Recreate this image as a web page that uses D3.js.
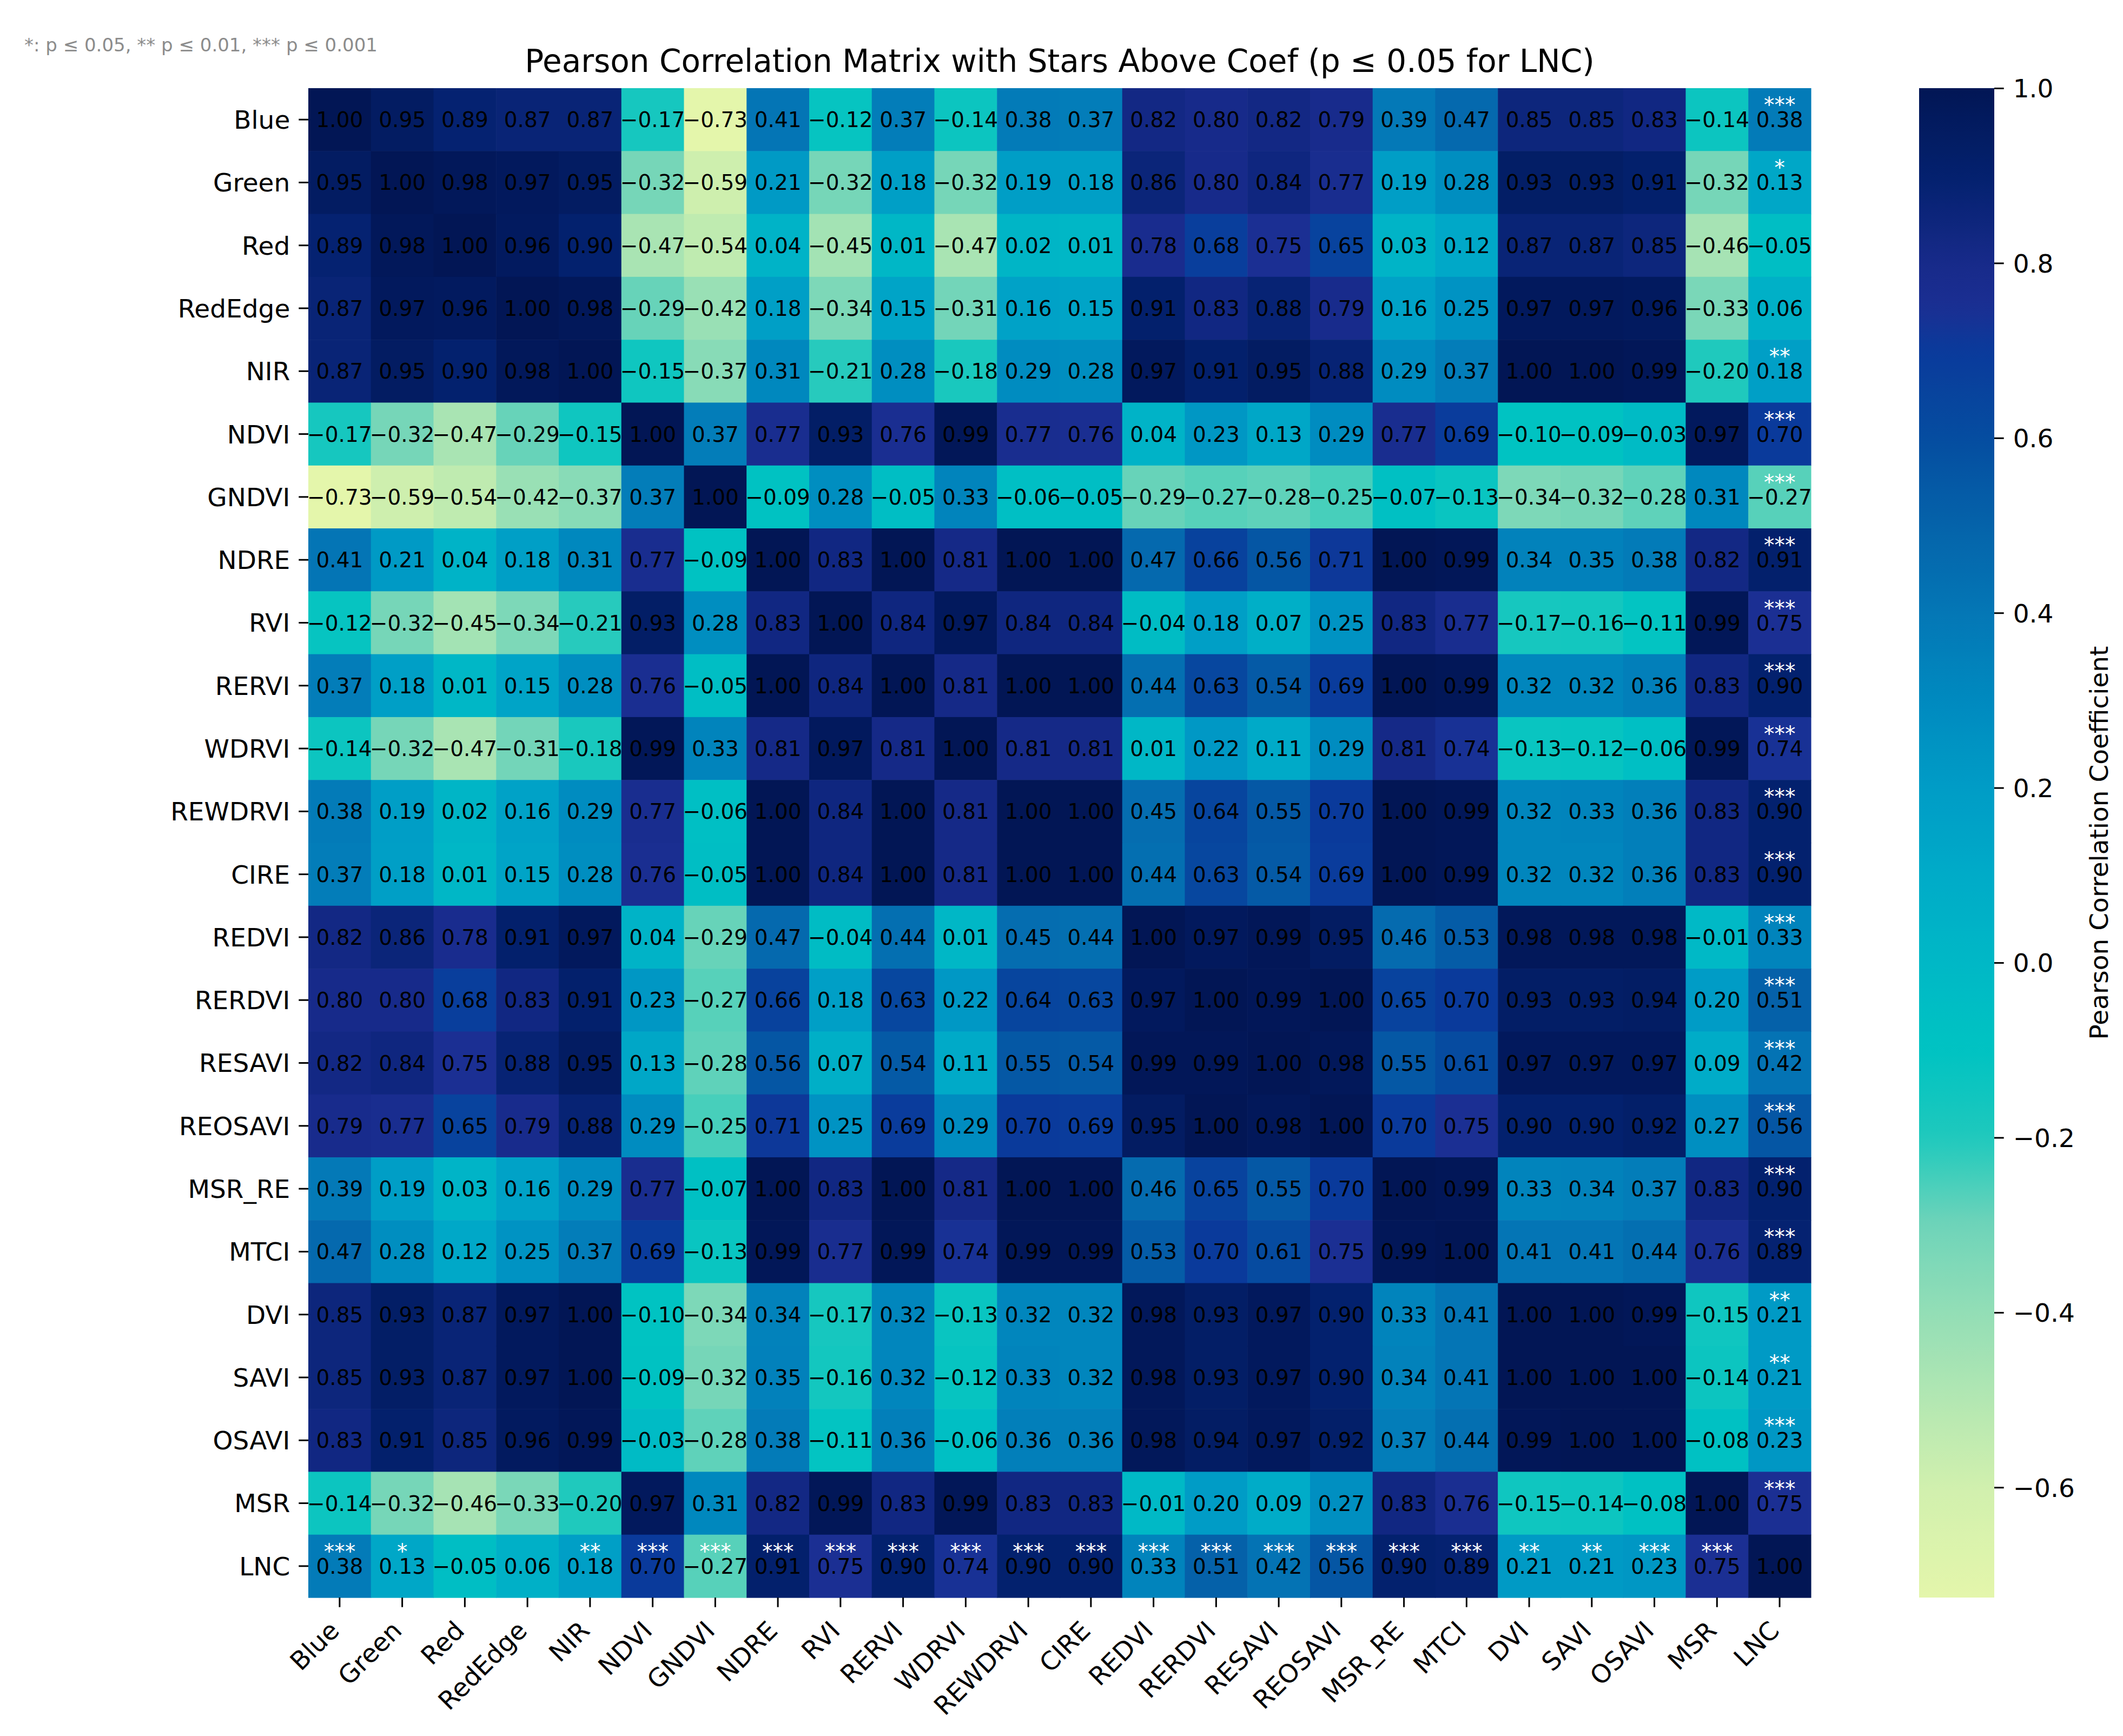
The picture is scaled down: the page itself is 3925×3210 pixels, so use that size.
<!DOCTYPE html>
<html>
<head>
<meta charset="utf-8">
<script src="https://cdn.jsdelivr.net/npm/d3@7"></script>
<style>
  body { margin: 0; background: #fff; }
  text { font-family: "DejaVu Sans", sans-serif; }
</style>
</head>
<body>
<svg id="chart"></svg>
<script>
// variables (rows and columns share the same order)
var categories = ["Blue","Green","Red","RedEdge","NIR","NDVI","GNDVI","NDRE","RVI","RERVI","WDRVI","REWDRVI","CIRE","REDVI","RERDVI","RESAVI","REOSAVI","MSR_RE","MTCI","DVI","SAVI","OSAVI","MSR","LNC"];

// correlation matrix, one row per variable
var corr = [
  [ 1.00, 0.95, 0.89, 0.87, 0.87,-0.17,-0.73, 0.41,-0.12, 0.37,-0.14, 0.38, 0.37, 0.82, 0.80, 0.82, 0.79, 0.39, 0.47, 0.85, 0.85, 0.83,-0.14, 0.38], // Blue
  [ 0.95, 1.00, 0.98, 0.97, 0.95,-0.32,-0.59, 0.21,-0.32, 0.18,-0.32, 0.19, 0.18, 0.86, 0.80, 0.84, 0.77, 0.19, 0.28, 0.93, 0.93, 0.91,-0.32, 0.13], // Green
  [ 0.89, 0.98, 1.00, 0.96, 0.90,-0.47,-0.54, 0.04,-0.45, 0.01,-0.47, 0.02, 0.01, 0.78, 0.68, 0.75, 0.65, 0.03, 0.12, 0.87, 0.87, 0.85,-0.46,-0.05], // Red
  [ 0.87, 0.97, 0.96, 1.00, 0.98,-0.29,-0.42, 0.18,-0.34, 0.15,-0.31, 0.16, 0.15, 0.91, 0.83, 0.88, 0.79, 0.16, 0.25, 0.97, 0.97, 0.96,-0.33, 0.06], // RedEdge
  [ 0.87, 0.95, 0.90, 0.98, 1.00,-0.15,-0.37, 0.31,-0.21, 0.28,-0.18, 0.29, 0.28, 0.97, 0.91, 0.95, 0.88, 0.29, 0.37, 1.00, 1.00, 0.99,-0.20, 0.18], // NIR
  [-0.17,-0.32,-0.47,-0.29,-0.15, 1.00, 0.37, 0.77, 0.93, 0.76, 0.99, 0.77, 0.76, 0.04, 0.23, 0.13, 0.29, 0.77, 0.69,-0.10,-0.09,-0.03, 0.97, 0.70], // NDVI
  [-0.73,-0.59,-0.54,-0.42,-0.37, 0.37, 1.00,-0.09, 0.28,-0.05, 0.33,-0.06,-0.05,-0.29,-0.27,-0.28,-0.25,-0.07,-0.13,-0.34,-0.32,-0.28, 0.31,-0.27], // GNDVI
  [ 0.41, 0.21, 0.04, 0.18, 0.31, 0.77,-0.09, 1.00, 0.83, 1.00, 0.81, 1.00, 1.00, 0.47, 0.66, 0.56, 0.71, 1.00, 0.99, 0.34, 0.35, 0.38, 0.82, 0.91], // NDRE
  [-0.12,-0.32,-0.45,-0.34,-0.21, 0.93, 0.28, 0.83, 1.00, 0.84, 0.97, 0.84, 0.84,-0.04, 0.18, 0.07, 0.25, 0.83, 0.77,-0.17,-0.16,-0.11, 0.99, 0.75], // RVI
  [ 0.37, 0.18, 0.01, 0.15, 0.28, 0.76,-0.05, 1.00, 0.84, 1.00, 0.81, 1.00, 1.00, 0.44, 0.63, 0.54, 0.69, 1.00, 0.99, 0.32, 0.32, 0.36, 0.83, 0.90], // RERVI
  [-0.14,-0.32,-0.47,-0.31,-0.18, 0.99, 0.33, 0.81, 0.97, 0.81, 1.00, 0.81, 0.81, 0.01, 0.22, 0.11, 0.29, 0.81, 0.74,-0.13,-0.12,-0.06, 0.99, 0.74], // WDRVI
  [ 0.38, 0.19, 0.02, 0.16, 0.29, 0.77,-0.06, 1.00, 0.84, 1.00, 0.81, 1.00, 1.00, 0.45, 0.64, 0.55, 0.70, 1.00, 0.99, 0.32, 0.33, 0.36, 0.83, 0.90], // REWDRVI
  [ 0.37, 0.18, 0.01, 0.15, 0.28, 0.76,-0.05, 1.00, 0.84, 1.00, 0.81, 1.00, 1.00, 0.44, 0.63, 0.54, 0.69, 1.00, 0.99, 0.32, 0.32, 0.36, 0.83, 0.90], // CIRE
  [ 0.82, 0.86, 0.78, 0.91, 0.97, 0.04,-0.29, 0.47,-0.04, 0.44, 0.01, 0.45, 0.44, 1.00, 0.97, 0.99, 0.95, 0.46, 0.53, 0.98, 0.98, 0.98,-0.01, 0.33], // REDVI
  [ 0.80, 0.80, 0.68, 0.83, 0.91, 0.23,-0.27, 0.66, 0.18, 0.63, 0.22, 0.64, 0.63, 0.97, 1.00, 0.99, 1.00, 0.65, 0.70, 0.93, 0.93, 0.94, 0.20, 0.51], // RERDVI
  [ 0.82, 0.84, 0.75, 0.88, 0.95, 0.13,-0.28, 0.56, 0.07, 0.54, 0.11, 0.55, 0.54, 0.99, 0.99, 1.00, 0.98, 0.55, 0.61, 0.97, 0.97, 0.97, 0.09, 0.42], // RESAVI
  [ 0.79, 0.77, 0.65, 0.79, 0.88, 0.29,-0.25, 0.71, 0.25, 0.69, 0.29, 0.70, 0.69, 0.95, 1.00, 0.98, 1.00, 0.70, 0.75, 0.90, 0.90, 0.92, 0.27, 0.56], // REOSAVI
  [ 0.39, 0.19, 0.03, 0.16, 0.29, 0.77,-0.07, 1.00, 0.83, 1.00, 0.81, 1.00, 1.00, 0.46, 0.65, 0.55, 0.70, 1.00, 0.99, 0.33, 0.34, 0.37, 0.83, 0.90], // MSR_RE
  [ 0.47, 0.28, 0.12, 0.25, 0.37, 0.69,-0.13, 0.99, 0.77, 0.99, 0.74, 0.99, 0.99, 0.53, 0.70, 0.61, 0.75, 0.99, 1.00, 0.41, 0.41, 0.44, 0.76, 0.89], // MTCI
  [ 0.85, 0.93, 0.87, 0.97, 1.00,-0.10,-0.34, 0.34,-0.17, 0.32,-0.13, 0.32, 0.32, 0.98, 0.93, 0.97, 0.90, 0.33, 0.41, 1.00, 1.00, 0.99,-0.15, 0.21], // DVI
  [ 0.85, 0.93, 0.87, 0.97, 1.00,-0.09,-0.32, 0.35,-0.16, 0.32,-0.12, 0.33, 0.32, 0.98, 0.93, 0.97, 0.90, 0.34, 0.41, 1.00, 1.00, 1.00,-0.14, 0.21], // SAVI
  [ 0.83, 0.91, 0.85, 0.96, 0.99,-0.03,-0.28, 0.38,-0.11, 0.36,-0.06, 0.36, 0.36, 0.98, 0.94, 0.97, 0.92, 0.37, 0.44, 0.99, 1.00, 1.00,-0.08, 0.23], // OSAVI
  [-0.14,-0.32,-0.46,-0.33,-0.20, 0.97, 0.31, 0.82, 0.99, 0.83, 0.99, 0.83, 0.83,-0.01, 0.20, 0.09, 0.27, 0.83, 0.76,-0.15,-0.14,-0.08, 1.00, 0.75], // MSR
  [ 0.38, 0.13,-0.05, 0.06, 0.18, 0.70,-0.27, 0.91, 0.75, 0.90, 0.74, 0.90, 0.90, 0.33, 0.51, 0.42, 0.56, 0.90, 0.89, 0.21, 0.21, 0.23, 0.75, 1.00]  // LNC
];

// significance stars of each variable against LNC
var lncStars = ["***","*","","","**","***","***","***","***","***","***","***","***","***","***","***","***","***","***","**","**","***","***",""];

var cbarTicks = [-0.6,-0.4,-0.2,0.0,0.2,0.4,0.6,0.8,1.0];
var vmin = -0.726, vmax = 1.0;

(function(){
  var W = 3925, H = 3210;
  var pad = {left: 570, right: 3348, top: 163, bottom: 2954};

  var svg = d3.select('#chart').attr('width', W).attr('height', H);
  svg.append('rect').attr('width', W).attr('height', H).attr('fill', '#fff');

  var x = d3.scaleBand().domain(categories).range([pad.left, pad.right]);
  var y = d3.scaleBand().domain(categories).range([pad.top, pad.bottom]);

  // colour ramp
  var color = d3.scaleLinear()
    .domain([-0.726,-0.6,-0.5,-0.4,-0.3,-0.2,-0.1,0.0,0.1,0.2,0.3,0.4,0.5,0.6,0.7,0.75,0.8,0.9,1.0])
    .range(["#e4f6ab","#d1f0ae","#b3e7b2","#93deb6","#6fd4b9","#1fc9bd","#00c3c2","#00b8c6","#00abc8","#009cc6","#008abf","#0477b6","#0563aa","#054da0","#0a3a9b","#1b2f93","#172a8a","#03216e","#021655"])
    .clamp(true);

  var n = categories.length;
  var cells = [];
  corr.forEach(function(row, i){
    row.forEach(function(v, j){
      var star = '';
      if (i === n - 1 && j !== i) star = lncStars[j];
      if (j === n - 1 && i !== j) star = lncStars[i];
      cells.push({r: categories[i], c: categories[j], v: v, star: star});
    });
  });

  var fmt = d3.format('.2f');

  svg.append('g')
    .selectAll('rect')
    .data(cells)
    .enter()
    .append('rect')
    .attr('x', function(d){ return x(d.c); })
    .attr('y', function(d){ return y(d.r); })
    .attr('width', x.bandwidth() + 0.6)
    .attr('height', y.bandwidth() + 0.6)
    .attr('fill', function(d){ return color(d.v); });

  svg.append('g')
    .selectAll('text')
    .data(cells)
    .enter()
    .append('text')
    .attr('x', function(d){ return x(d.c) + x.bandwidth() / 2; })
    .attr('y', function(d){ return y(d.r) + y.bandwidth() / 2; })
    .attr('dy', '0.36em')
    .attr('text-anchor', 'middle')
    .attr('font-size', 39)
    .attr('fill', '#000')
    .text(function(d){ return fmt(d.v); });

  svg.append('g')
    .selectAll('text')
    .data(cells.filter(function(d){ return d.star; }))
    .enter()
    .append('text')
    .attr('x', function(d){ return x(d.c) + x.bandwidth() / 2; })
    .attr('y', function(d){ return y(d.r) + y.bandwidth() * 0.38; })
    .attr('text-anchor', 'middle')
    .attr('font-size', 39)
    .attr('fill', '#fff')
    .text(function(d){ return d.star; });

  // axes
  var yAxis = d3.axisLeft(y).tickSize(17.7).tickPadding(16);
  var gy = svg.append('g')
    .attr('transform', 'translate(' + pad.left + ',0)')
    .call(yAxis);
  gy.select('.domain').remove();
  gy.selectAll('line').attr('stroke', '#000').attr('stroke-width', 3);
  gy.selectAll('text')
    .attr('font-size', 47)
    .attr('font-family', '"DejaVu Sans", sans-serif')
    .attr('fill', '#000')
    .attr('dy', '0.36em');

  var xAxis = d3.axisBottom(x).tickSize(17.7);
  var gx = svg.append('g')
    .attr('transform', 'translate(0,' + pad.bottom + ')')
    .call(xAxis);
  gx.select('.domain').remove();
  gx.selectAll('line').attr('stroke', '#000').attr('stroke-width', 3);
  gx.selectAll('text')
    .attr('font-size', 47)
    .attr('font-family', '"DejaVu Sans", sans-serif')
    .attr('fill', '#000')
    .attr('x', 0).attr('y', 0).attr('dy', 0)
    .attr('text-anchor', 'end')
    .attr('transform', 'translate(2,64) rotate(-45)');

  // colour bar
  var cbX = 3548, cbW = 139;
  var cbScale = d3.scaleLinear().domain([vmin, vmax]).range([pad.bottom, pad.top]);
  var grad = svg.append('defs').append('linearGradient')
    .attr('id', 'cbgrad')
    .attr('x1', 0).attr('y1', 1).attr('x2', 0).attr('y2', 0);
  d3.range(0, 101).forEach(function(k){
    var v = vmin + (vmax - vmin) * k / 100;
    grad.append('stop').attr('offset', k + '%').attr('stop-color', color(v));
  });
  svg.append('rect')
    .attr('x', cbX).attr('y', pad.top)
    .attr('width', cbW).attr('height', pad.bottom - pad.top)
    .attr('fill', 'url(#cbgrad)');

  var cbAxis = d3.axisRight(cbScale).tickValues(cbarTicks).tickFormat(d3.format('.1f')).tickSize(17.7).tickPadding(17);
  var gc = svg.append('g')
    .attr('transform', 'translate(' + (cbX + cbW) + ',0)')
    .call(cbAxis);
  gc.select('.domain').remove();
  gc.selectAll('line').attr('stroke', '#000').attr('stroke-width', 3);
  gc.selectAll('text')
    .attr('font-size', 47)
    .attr('font-family', '"DejaVu Sans", sans-serif')
    .attr('fill', '#000')
    .attr('dy', '0.36em');

  svg.append('text')
    .attr('transform', 'translate(3897,' + ((pad.top + pad.bottom) / 2) + ') rotate(-90)')
    .attr('text-anchor', 'middle')
    .attr('font-size', 47)
    .attr('fill', '#000')
    .text('Pearson Correlation Coefficient');

  // title and note
  svg.append('text')
    .attr('x', (pad.left + pad.right) / 2)
    .attr('y', 133)
    .attr('text-anchor', 'middle')
    .attr('font-size', 58)
    .attr('fill', '#000')
    .text('Pearson Correlation Matrix with Stars Above Coef (p \u2264 0.05 for LNC)');

  svg.append('text')
    .attr('x', 45)
    .attr('y', 95)
    .attr('font-size', 34)
    .attr('fill', '#8c8c8c')
    .text('*: p \u2264 0.05, ** p \u2264 0.01, *** p \u2264 0.001');
})();
</script>
</body>
</html>
